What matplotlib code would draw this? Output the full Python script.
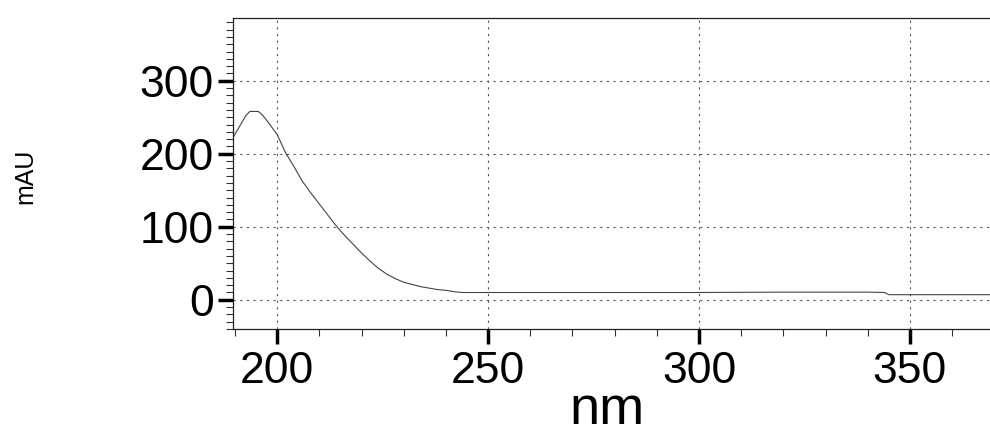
import matplotlib
matplotlib.use("Agg")
import matplotlib.pyplot as plt
from matplotlib.ticker import MultipleLocator

plt.rcParams['font.family'] = ['Liberation Sans', 'DejaVu Sans']

wavelength_nm = [189.5, 190.5, 191.5, 192.5, 193.5, 195.5, 196.5, 198, 200, 202, 204,
                 206, 208, 210, 212, 214, 216, 218, 220, 222, 224, 226, 228, 230,
                 232, 234, 236, 238, 240, 242, 244, 250, 270, 300, 320, 340, 344,
                 345, 370]
absorbance_mAU = [222, 232, 242, 252, 258, 258, 253, 242, 226, 201, 182,
                  162, 146, 131, 116, 101, 88, 76, 64, 53, 43, 35, 29, 24,
                  21, 18, 16, 14, 13, 11, 10, 10, 10, 10, 10.5, 10.5, 10,
                  7, 7]
x_major_ticks = [200, 250, 300, 350]
y_major_ticks = [0, 100, 200, 300]
x_label = "nm"
y_label = "mAU"

fig = plt.figure(figsize=(9.9, 4.37), dpi=100)
ax = fig.add_axes([233/990, 1-329/437, 1-233/990, (329-18)/437])

ax.plot(wavelength_nm, absorbance_mAU, color='#444444', lw=0.8)

ax.set_xlim(189.5, 369)
ax.set_ylim(-40, 386)
ax.set_xticks(x_major_ticks)
ax.set_yticks(y_major_ticks)
ax.xaxis.set_minor_locator(MultipleLocator(10))
ax.yaxis.set_minor_locator(MultipleLocator(10))

ax.tick_params(axis='both', which='major', direction='out', length=11, width=2.5,
               labelsize=32, color='black')
ax.tick_params(axis='x', which='major', pad=5)
ax.tick_params(axis='y', which='major', pad=3)
ax.tick_params(axis='both', which='minor', direction='out', length=5, width=0.8,
               color='#333333')

ax.grid(True, which='major', color='#555555', linestyle=(0, (2, 4)), lw=0.8)

for s in ['left', 'bottom', 'top']:
    ax.spines[s].set_linewidth(0.9)
    ax.spines[s].set_color('#222222')
ax.spines['right'].set_visible(False)

fig.text(607/990, 1-424/437, x_label, ha='center', va='baseline', fontsize=39)
fig.text(25/990, 1-176/437, y_label, ha='center', va='center', fontsize=18,
         rotation=90)

fig.savefig("out.png", dpi=100)
